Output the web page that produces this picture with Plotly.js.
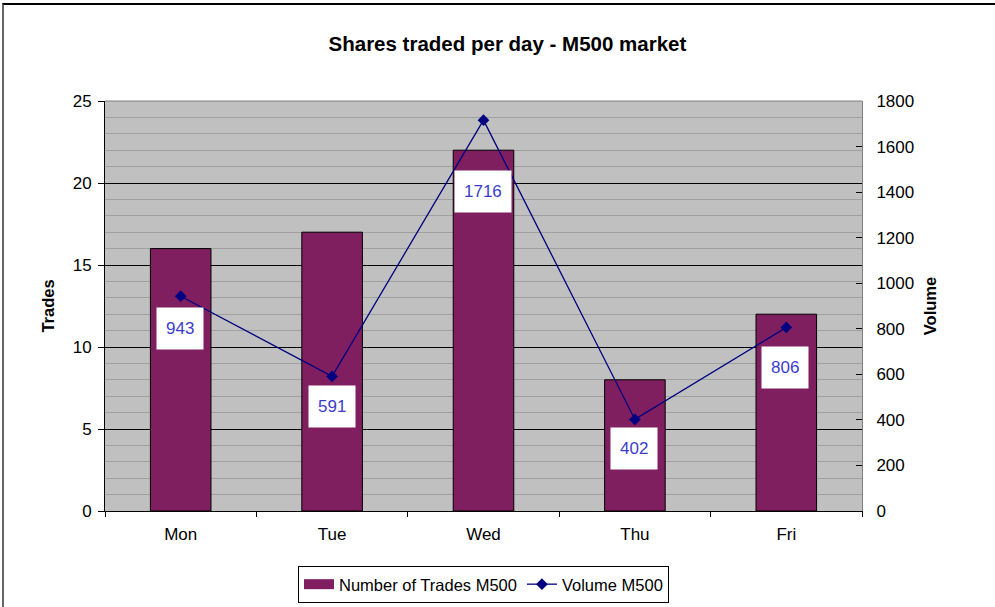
<!DOCTYPE html>
<html>
<head>
<meta charset="utf-8">
<script src="https://cdn.plot.ly/plotly-3.0.1.min.js"></script>
<style>
  html, body { margin: 0; padding: 0; background: #fff; }
  #wrap { position: relative; width: 995px; height: 607px; overflow: hidden; }
  #chart { width: 995px; height: 607px; }
  #frame { position: absolute; left: 2px; top: 3px; width: 1100px; height: 800px;
           border-top: 2px solid #000; border-left: 2px solid #666; pointer-events: none; }
</style>
</head>
<body>
<div id="wrap"><div id="chart"></div><div id="frame"></div></div>
<script>
const days = ["Mon", "Tue", "Wed", "Thu", "Fri"];
const trades = [16, 17, 22, 8, 12];
const volume = [943, 591, 1716, 402, 806];
const labelOffsetY = [32, 30, 71, 29, 40];
const labelOffsetX = [-1, 0, -1, -1, -1];

const font = "Liberation Sans, Arial, sans-serif";
const barColor = "#801F5F";

const barTrace = {
  type: "bar", x: days, y: trades, name: "Number of Trades M500",
  marker: { color: barColor, line: { color: "#000", width: 1 } },
  yaxis: "y", showlegend: false
};
const barLegend = {
  type: "scatter", mode: "lines", x: [null], y: [null], name: "Number of Trades M500",
  line: { color: barColor, width: 11 }, yaxis: "y", showlegend: true
};
const lineTrace = {
  type: "scatter", mode: "lines+markers", x: days, y: volume, name: "Volume M500",
  line: { color: "#000080", width: 1.3 },
  marker: { symbol: "diamond", size: 9, color: "#000080" },
  yaxis: "y2"
};

const annotations = days.map((d, i) => ({
  x: d, y: volume[i], xref: "x", yref: "y2",
  text: String(volume[i]), showarrow: true, arrowcolor: "rgba(0,0,0,0)", arrowwidth: 0.1,
  ax: labelOffsetX[i], ay: labelOffsetY[i],
  bgcolor: "#fff", borderpad: 9, height: 23,
  font: { family: font, size: 17, color: "#3C3CCC" }
}));

const layout = {
  width: 995, height: 607,
  margin: { l: 105, r: 133, t: 101, b: 96, autoexpand: false },
  paper_bgcolor: "#fff", plot_bgcolor: "#C0C0C0",
  font: { family: font, size: 17, color: "#000" },
  title: { text: "<b>Shares traded per day - M500 market</b>", x: 0.51, xanchor: "center", y: 0.927, yanchor: "middle",
           font: { family: font, size: 20.5, color: "#000" } },
  bargap: 0.6,
  showlegend: true,
  legend: { orientation: "h", x: 0.5, xanchor: "center", y: -0.134, yanchor: "top",
            bordercolor: "#000", borderwidth: 1, bgcolor: "#fff",
            font: { family: font, size: 16.5 }, traceorder: "normal", itemwidth: 30,
            tracegroupgap: 0 },
  xaxis: {
    type: "category", showline: true, linecolor: "#000", linewidth: 1,
    ticks: "outside", tickson: "boundaries", ticklen: 5, tickcolor: "#000",
    showgrid: false, zeroline: false, tickfont: { size: 17 }, ticklabelstandoff: 8
  },
  yaxis: {
    range: [0, 25], dtick: 5, showline: true, linecolor: "#000", linewidth: 1,
    ticks: "outside", ticklen: 6, tickcolor: "#000",
    showgrid: true, gridcolor: "#000", gridwidth: 1, zeroline: false,
    minor: { dtick: 1, showgrid: true, gridcolor: "#A0A0A0", gridwidth: 1, ticks: "" },
    title: { text: "<b>Trades</b>", font: { size: 16.5 }, standoff: 13 },
    tickfont: { size: 17 }, ticklabelstandoff: 3
  },
  yaxis2: {
    overlaying: "y", side: "right", range: [0, 1800], dtick: 200,
    showline: true, linecolor: "#808080", linewidth: 1,
    ticks: "inside", ticklen: 6, tickcolor: "#000",
    showgrid: false, zeroline: false,
    title: { text: "<b>Volume</b>", font: { size: 16.5 }, standoff: 11 },
    tickfont: { size: 17 }, ticklabelstandoff: 10
  },
  shapes: [
    { type: "line", xref: "paper", yref: "paper", x0: 0, x1: 1, y0: 1, y1: 1,
      line: { color: "#808080", width: 1 } }
  ],
  annotations: annotations
};

Plotly.newPlot("chart", [barTrace, barLegend, lineTrace], layout, { displayModeBar: false, staticPlot: true });
</script>
</body>
</html>
